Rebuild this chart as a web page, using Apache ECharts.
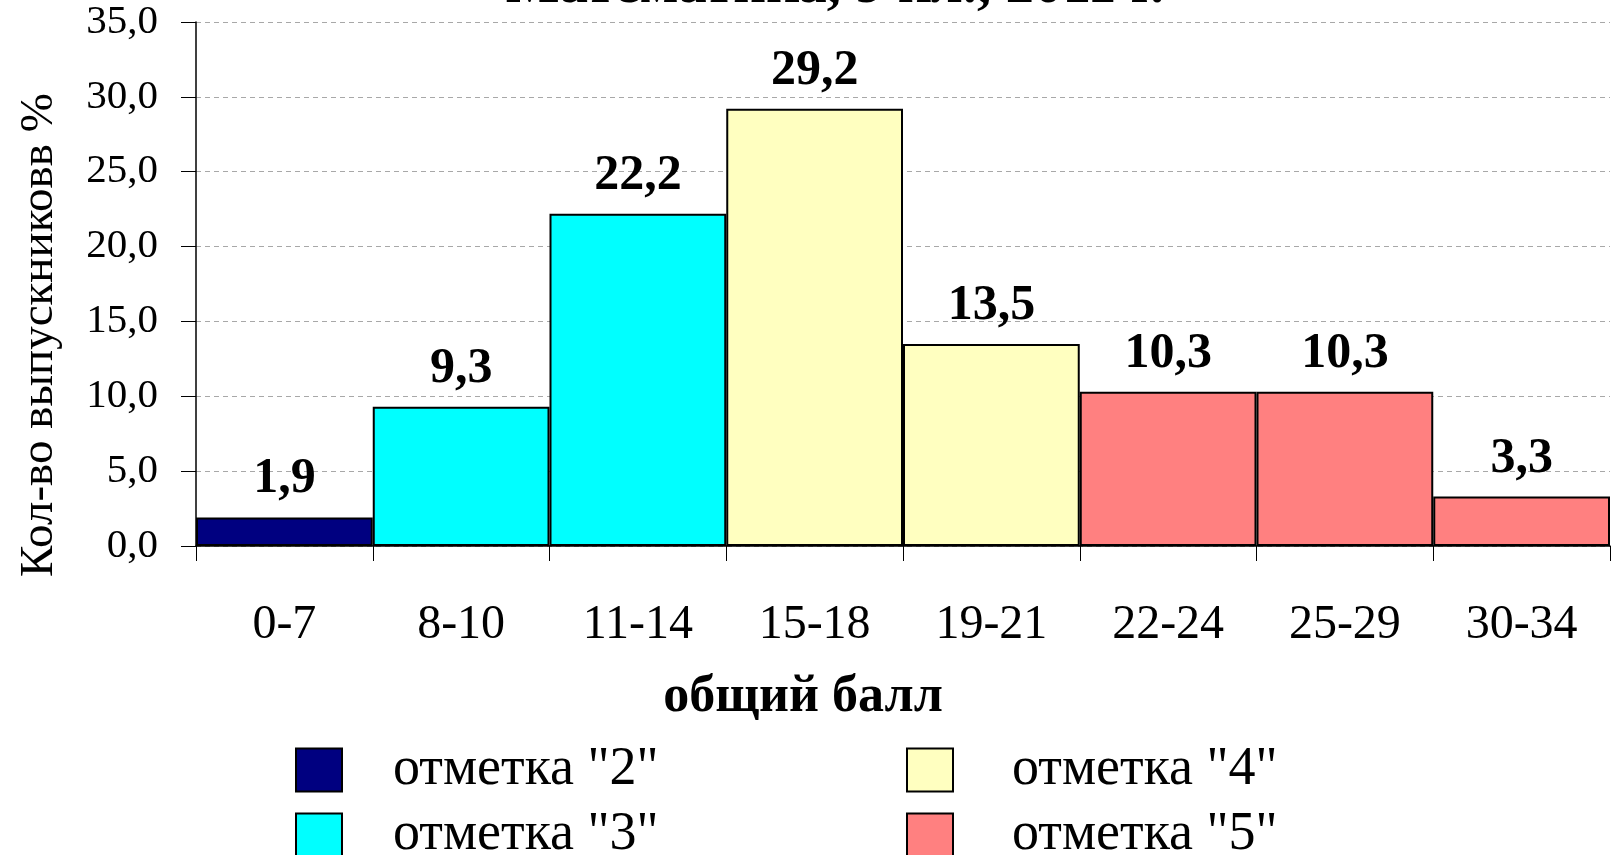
<!DOCTYPE html>
<html>
<head>
<meta charset="utf-8">
<title>Математика, 9 кл., 2011 г.</title>
<script src="https://cdn.jsdelivr.net/npm/echarts@6/dist/echarts.min.js"></script>
<style>
  html, body { margin: 0; padding: 0; background: #fff; }
  #chart { width: 1612px; height: 855px; }
</style>
</head>
<body>
<div id="chart"></div>
<script>
// данные диаграммы
var categories = ['0-7', '8-10', '11-14', '15-18', '19-21', '22-24', '25-29', '30-34'];
var percents = [1.9, 9.3, 22.2, 29.2, 13.5, 10.3, 10.3, 3.3];
var marks = ['2', '3', '3', '4', '4', '5', '5', '5']; // отметка для каждого интервала
var markNames = ['отметка "2"', 'отметка "3"', 'отметка "4"', 'отметка "5"'];
var markKeys = ['2', '3', '4', '5'];
var markColors = ['#000080', '#00FFFF', '#FFFFC0', '#FF8080'];

var serif = '"Liberation Serif", "DejaVu Serif", serif';

function fmt(v) {
  return Number(v).toFixed(1).replace('.', ',');
}

var series = markKeys.map(function (k, idx) {
  return {
    name: markNames[idx],
    type: 'bar',
    stack: 'all',
    barWidth: '100%',
    itemStyle: { color: markColors[idx], borderColor: '#000', borderWidth: 2 },
    label: {
      show: true,
      position: 'top',
      distance: 13,
      formatter: function (p) { return fmt(p.value); },
      fontFamily: serif,
      fontWeight: 'bold',
      fontSize: 50,
      color: '#000'
    },
    data: percents.map(function (v, i) { return marks[i] === k ? v : '-'; })
  };
});

var legendBase = {
  orient: 'vertical',
  top: 738,
  height: 160,
  itemWidth: 46,
  itemHeight: 43,
  itemGap: 11,
  icon: 'rect',
  itemStyle: { borderColor: '#000', borderWidth: 2 }
};

var chart = echarts.init(document.getElementById('chart'));
chart.setOption({
  animation: false,
  title: {
    text: 'Математика, 9 кл., 2011 г.',
    left: 830,
    textAlign: 'center',
    top: -46,
    textStyle: { fontFamily: serif, fontWeight: 'bold', fontSize: 57, color: '#000' }
  },
  grid: { left: 196, right: 2, top: 22, bottom: 309 },
  legend: [
    Object.assign({}, legendBase, {
      left: 290,
      data: [markNames[0], markNames[1]],
      textStyle: { fontFamily: serif, fontSize: 54, color: '#000', padding: [0, 0, 0, 46] }
    }),
    Object.assign({}, legendBase, {
      left: 901,
      data: [markNames[2], markNames[3]],
      textStyle: { fontFamily: serif, fontSize: 54, color: '#000', padding: [0, 0, 0, 54] }
    })
  ],
  xAxis: {
    type: 'category',
    data: categories,
    axisLine: { lineStyle: { color: '#000', width: 1.5 } },
    axisTick: { show: true, length: 15, lineStyle: { color: '#000' } },
    axisLabel: { fontFamily: serif, fontSize: 48, color: '#000', margin: 55 }
  },
  yAxis: {
    type: 'value',
    min: 0,
    max: 35,
    interval: 5,
    axisLine: { show: true, lineStyle: { color: '#000', width: 1.5 } },
    axisTick: { show: true, length: 15, lineStyle: { color: '#000' } },
    axisLabel: { fontFamily: serif, fontSize: 41, color: '#000', margin: 38, formatter: fmt },
    splitLine: { lineStyle: { color: '#a8a8a8', type: [5, 4], width: 1 } }
  },
  graphic: [
    {
      type: 'text',
      x: 40,
      y: 335,
      rotation: Math.PI / 2,
      style: {
        text: 'Кол-во выпускниковв %',
        fontFamily: serif,
        fontSize: 47,
        fill: '#000',
        align: 'center',
        verticalAlign: 'middle'
      }
    },
    {
      type: 'text',
      x: 803,
      y: 698,
      style: {
        text: 'общий балл',
        fontFamily: serif,
        fontWeight: 'bold',
        fontSize: 52,
        fill: '#000',
        align: 'center',
        verticalAlign: 'middle'
      }
    }
  ],
  series: series
});
</script>
</body>
</html>
